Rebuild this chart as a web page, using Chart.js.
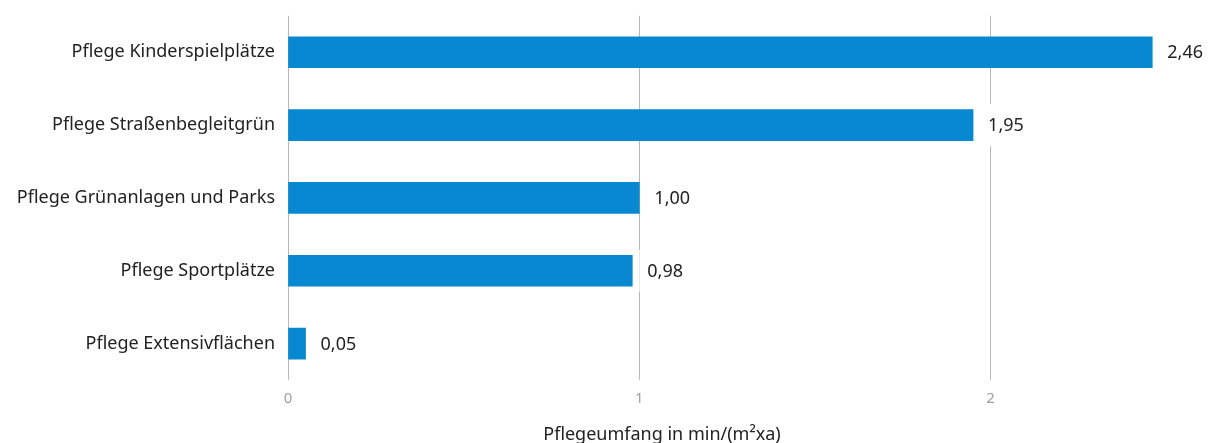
<!DOCTYPE html>
<html>
<head>
<meta charset="utf-8">
<script src="https://cdn.jsdelivr.net/npm/chart.js@4/dist/chart.umd.min.js"></script>
<style>
  html, body { margin: 0; padding: 0; background: #fff; }
  #wrap { width: 1212px; height: 443px; }
</style>
</head>
<body>
<div id="wrap"><canvas id="pflegeChart"></canvas></div>
<script>
const categories = [
  'Pflege Kinderspielplätze',
  'Pflege Straßenbegleitgrün',
  'Pflege Grünanlagen und Parks',
  'Pflege Sportplätze',
  'Pflege Extensivflächen'
];
const values = [2.46, 1.95, 1.00, 0.98, 0.05];
const xTicks = [0, 1, 2];
const axisTitle = 'Pflegeumfang in min/(m²xa)';

const FONT = '"Noto Sans", "Open Sans", sans-serif';
const gridGray = '#bdb6b3';

function fmt(v) {
  return v.toFixed(2).replace('.', ',');
}

// value labels with a white box behind them (hides the grid line)
const valueLabels = {
  id: 'valueLabels',
  afterDatasetsDraw(chart) {
    const ctx = chart.ctx;
    const meta = chart.getDatasetMeta(0);
    ctx.save();
    ctx.font = '18px ' + FONT;
    ctx.textBaseline = 'middle';
    meta.data.forEach((bar, i) => {
      const txt = fmt(values[i]);
      const x = bar.x + 15;
      const w = ctx.measureText(txt).width;
      ctx.fillStyle = '#fff';
      ctx.fillRect(x - 8, bar.y - 21, w + 14, 42);
      ctx.fillStyle = '#222';
      ctx.textAlign = 'left';
      ctx.fillText(txt, x, bar.y + 1);
    });
    ctx.restore();
  }
};

const axisTitlePlugin = {
  id: 'axisTitlePlugin',
  afterDraw(chart) {
    const ctx = chart.ctx;
    ctx.save();
    ctx.font = '18px ' + FONT;
    ctx.fillStyle = '#222';
    ctx.textAlign = 'center';
    ctx.textBaseline = 'middle';
    ctx.fillText(axisTitle, 662, 435);
    ctx.restore();
  }
};

new Chart(document.getElementById('pflegeChart'), {
  type: 'bar',
  data: {
    labels: categories,
    datasets: [{
      data: values,
      backgroundColor: '#0788d1',
      barThickness: 31
    }]
  },
  options: {
    indexAxis: 'y',
    responsive: true,
    maintainAspectRatio: false,
    animation: false,
    layout: { padding: { top: 0, right: 0, left: 0, bottom: 0 } },
    plugins: {
      legend: { display: false },
      tooltip: { enabled: false }
    },
    scales: {
      x: {
        min: 0,
        max: 2.63,
        afterBuildTicks(scale) {
          scale.ticks = xTicks.map(v => ({ value: v }));
        },
        afterFit(scale) { scale.height = 63; },
        grid: { color: gridGray, lineWidth: 1, drawTicks: false },
        border: { display: false },
        ticks: {
          color: '#a39d9b',
          font: { family: FONT, size: 15 },
          padding: 10,
          callback: v => String(v)
        }
      },
      y: {
        afterFit(scale) { scale.width = 288; },
        grid: { display: false },
        border: { display: false },
        ticks: {
          color: '#222',
          font: { family: FONT, size: 18 },
          padding: 5
        }
      }
    }
  },
  plugins: [valueLabels, axisTitlePlugin]
});
</script>
</body>
</html>
